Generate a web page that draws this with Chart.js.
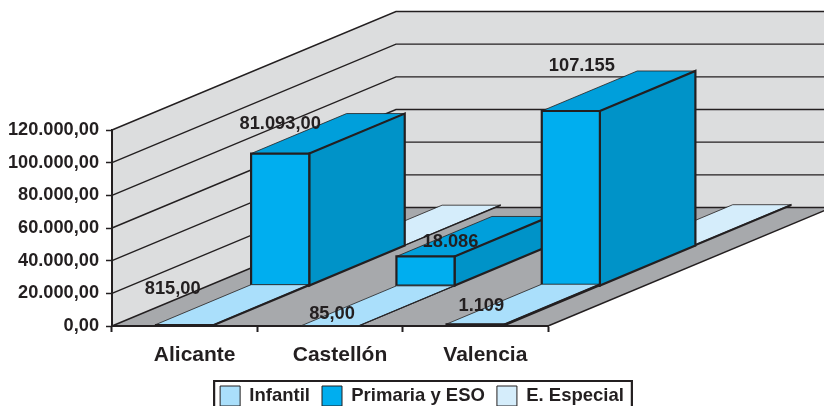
<!DOCTYPE html>
<html>
<head>
<meta charset="utf-8">
<style>
  html, body { margin: 0; padding: 0; background: #fff; overflow: hidden; }
  canvas { display: block; }
</style>
<script src="https://cdn.jsdelivr.net/npm/chart.js@4/dist/chart.umd.min.js"></script>
</head>
<body>
<canvas id="chart" width="824" height="406"></canvas>
<script>
// Data
const categories = ['Alicante', 'Castellón', 'Valencia'];
const seriesNames = ['Infantil', 'Primaria y ESO', 'E. Especial'];
const infantil = [815, 85, 1109];
const primaria = [81093, 18086, 107155];
const especial = [500, 300, 800];   // no label in the picture, estimated from slab thickness
const infantilLabels = ['815,00', '85,00', '1.109'];
const primariaLabels = ['81.093,00', '18.086', '107.155'];

// Hand placed labels in the original: shift from the top centre of each bar
const infantilNudge = [[-12, -36], [2, -12], [6, -18]];
const primariaNudge = [[0, -30], [25, -14], [11, -45]];

// Fake 3D settings
const WALL_DX = 284, WALL_DY = -118.5;
const SLOT_DX = 95.5, SLOT_DY = -40;
const LEGEND_SHIFT_X = 148, LEGEND_SHIFT_Y = 10;
const LEGEND_PADDING = 12;

const INK = '#231f20';
const FONT = "'Liberation Sans', Arial, sans-serif";

const faces = [
  { front: '#aadffb', top: '#aadffb', side: '#7fc4e6' },
  { front: '#00aeef', top: '#009fdb', side: '#0093c8' },
  { front: '#d5edfb', top: '#d5edfb', side: '#a9d3ea' }
];

// Spanish number format for the axis
function formatTick(value) {
  return value.toFixed(0).replace(/\B(?=(\d{3})+$)/g, '.') + ',00';
}

function poly(ctx, pts) {
  ctx.beginPath();
  pts.forEach((p, i) => i ? ctx.lineTo(p[0], p[1]) : ctx.moveTo(p[0], p[1]));
  ctx.closePath();
}

function drawCuboid(ctx, bar, slot, c) {
  const ox = SLOT_DX * slot, oy = SLOT_DY * slot;
  const l = bar.x - bar.width / 2 + ox, r = bar.x + bar.width / 2 + ox;
  const t = bar.y + oy, b = bar.base + oy;
  const h = b - t;
  const lw = Math.min(2.2, 1 + h / 2);
  ctx.lineJoin = 'miter';

  // top face first, thin edge
  poly(ctx, [[l, t], [r, t], [r + SLOT_DX, t + SLOT_DY], [l + SLOT_DX, t + SLOT_DY]]);
  ctx.fillStyle = c.top;
  ctx.fill();
  ctx.lineWidth = 0.8;
  ctx.strokeStyle = INK;
  ctx.stroke();

  // right side
  poly(ctx, [[r, t], [r + SLOT_DX, t + SLOT_DY], [r + SLOT_DX, b + SLOT_DY], [r, b]]);
  ctx.fillStyle = c.side;
  ctx.fill();
  ctx.lineWidth = lw;
  ctx.stroke();

  // front
  poly(ctx, [[l, t], [r, t], [r, b], [l, b]]);
  ctx.fillStyle = c.front;
  ctx.fill();
  ctx.stroke();
}

const scene3d = {
  id: 'scene3d',
  afterLayout(chart) {
    // legend sits off centre and runs into the bottom edge of the picture
    const lg = chart.legend;
    lg.left += LEGEND_SHIFT_X;
    lg.right += LEGEND_SHIFT_X;
    lg.top += LEGEND_SHIFT_Y;
    lg.bottom += LEGEND_SHIFT_Y;
    lg.legendHitBoxes.forEach(box => {
      box.left += LEGEND_SHIFT_X;
      box.top += LEGEND_SHIFT_Y;
    });
  },
  beforeDraw(chart) {
    const { ctx, scales: { x, y } } = chart;
    const base = y.getPixelForValue(0), top = y.getPixelForValue(120000);

    ctx.save();
    // back wall
    poly(ctx, [[x.left, top], [x.left + WALL_DX, top + WALL_DY], [x.right + WALL_DX, top + WALL_DY],
      [x.right + WALL_DX, base + WALL_DY], [x.left + WALL_DX, base + WALL_DY], [x.left, base]]);
    ctx.fillStyle = '#dcddde';
    ctx.fill();

    // floor
    poly(ctx, [[x.left, base], [x.left + WALL_DX, base + WALL_DY], [x.right + WALL_DX, base + WALL_DY], [x.right, base]]);
    ctx.fillStyle = '#a7a9ac';
    ctx.fill();
    ctx.strokeStyle = INK;
    ctx.lineWidth = 1.4;
    ctx.beginPath();
    ctx.moveTo(x.right, base);
    ctx.lineTo(x.right + WALL_DX, base + WALL_DY);
    ctx.stroke();

    // grid lines run up the side wall then along the back
    y.ticks.forEach(tick => {
      const py = y.getPixelForValue(tick.value);
      ctx.beginPath();
      ctx.moveTo(x.left, py);
      ctx.lineTo(x.left + WALL_DX, py + WALL_DY);
      ctx.lineTo(x.right + WALL_DX, py + WALL_DY);
      ctx.stroke();
    });
    ctx.restore();
  },
  beforeDatasetsDraw(chart) {
    const ctx = chart.ctx;
    ctx.save();
    // back row first, left to right inside each row
    [2, 1, 0].forEach(slot => {
      chart.getDatasetMeta(slot).data.forEach(bar => drawCuboid(ctx, bar, slot, faces[slot]));
    });

    // value labels
    ctx.font = 'bold 18.3px ' + FONT;
    ctx.fillStyle = INK;
    ctx.textAlign = 'center';
    ctx.textBaseline = 'middle';
    chart.getDatasetMeta(1).data.forEach((bar, i) => {
      ctx.fillText(primariaLabels[i], bar.x + SLOT_DX + primariaNudge[i][0], bar.y + SLOT_DY + primariaNudge[i][1]);
    });
    chart.getDatasetMeta(0).data.forEach((bar, i) => {
      ctx.fillText(infantilLabels[i], bar.x + infantilNudge[i][0], bar.y + infantilNudge[i][1]);
    });
    ctx.restore();
    return false; // native flat bars are not wanted
  },
  afterDraw(chart) {
    const { ctx, legend } = chart;
    const boxes = legend.legendHitBoxes;
    const last = boxes[boxes.length - 1];
    const left = boxes[0].left - 6, right = last.left + last.width + 8;
    const top = legend.top + LEGEND_PADDING - 5;
    ctx.save();
    ctx.strokeStyle = INK;
    ctx.lineWidth = 2.2;
    ctx.beginPath();
    ctx.moveTo(left, 410);
    ctx.lineTo(left, top);
    ctx.lineTo(right, top);
    ctx.lineTo(right, 410);
    ctx.stroke();
    ctx.restore();
  }
};

new Chart(document.getElementById('chart'), {
  type: 'bar',
  data: {
    labels: categories,
    datasets: [
      { label: seriesNames[0], data: infantil, backgroundColor: faces[0].front },
      { label: seriesNames[1], data: primaria, backgroundColor: faces[1].front },
      { label: seriesNames[2], data: especial, backgroundColor: faces[2].front }
    ].map(d => ({ ...d, grouped: false, borderColor: INK, borderWidth: 1, categoryPercentage: 1, barPercentage: 0.4 }))
  },
  options: {
    responsive: false,
    animation: false,
    layout: { padding: { top: 130, right: 276, left: 0, bottom: 0 } },
    plugins: {
      tooltip: { enabled: false },
      legend: {
        position: 'bottom',
        labels: {
          boxWidth: 20,
          boxHeight: 20,
          padding: LEGEND_PADDING,
          color: INK,
          font: { family: FONT, size: 18.5, weight: 'bold' }
        }
      }
    },
    scales: {
      x: {
        afterFit(s) { s.height = 38; },
        border: { color: INK, width: 2 },
        grid: { offset: true, drawOnChartArea: false, tickLength: 6, tickColor: INK, tickWidth: 2 },
        ticks: {
          color: INK,
          padding: 10.5,
          labelOffset: 10,
          maxRotation: 0,
          minRotation: 0,
          font: { family: FONT, size: 21, weight: 'bold' }
        }
      },
      y: {
        min: 0,
        max: 120000,
        afterFit(s) { s.width = 112; },
        border: { color: INK, width: 2 },
        grid: { drawOnChartArea: false, tickLength: 6, tickColor: INK, tickWidth: 1.5 },
        ticks: {
          stepSize: 20000,
          color: INK,
          padding: 7,
          callback: formatTick,
          font: { family: FONT, size: 18.2, weight: 'bold' }
        }
      }
    }
  },
  plugins: [scene3d]
});
</script>
</body>
</html>
